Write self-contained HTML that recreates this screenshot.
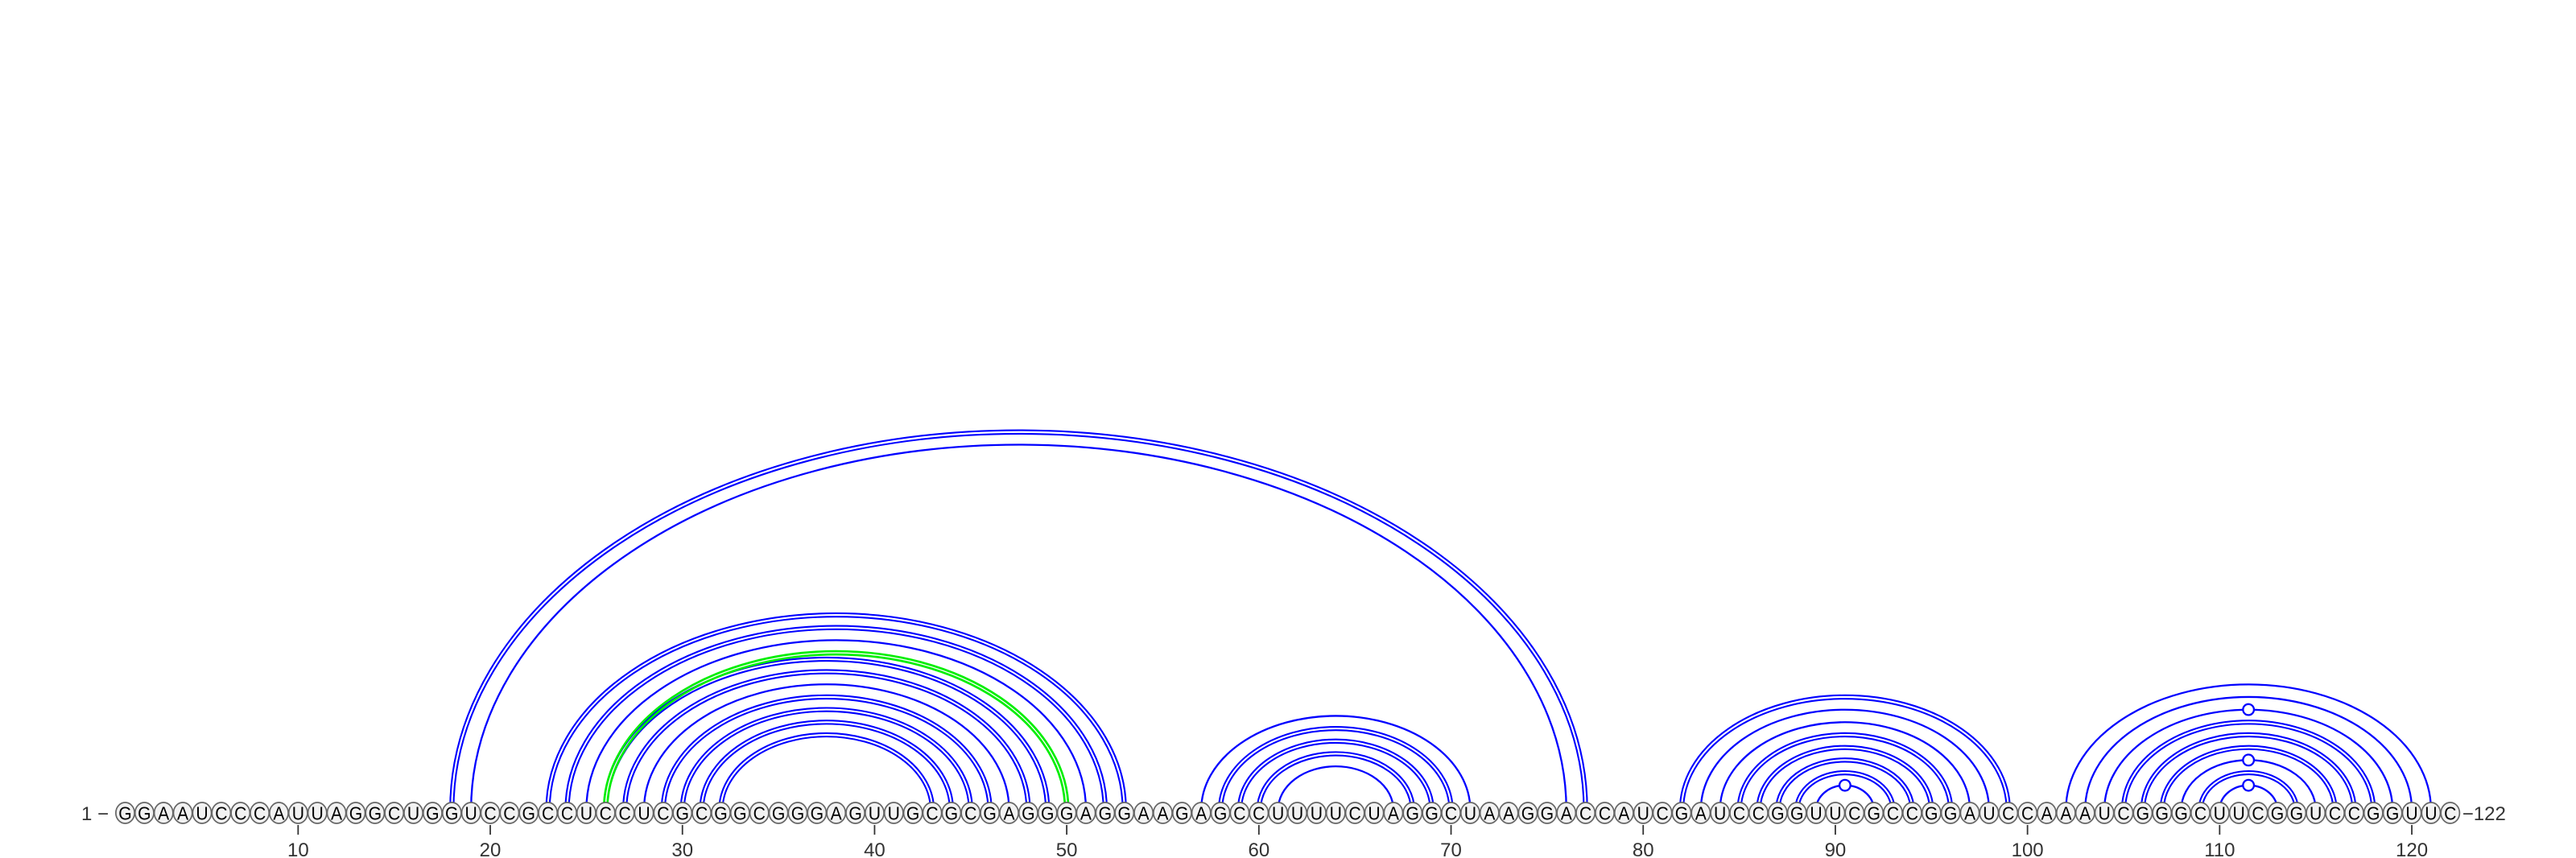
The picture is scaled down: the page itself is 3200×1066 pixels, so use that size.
<!DOCTYPE html>
<html><head><meta charset="utf-8"><style>
html,body{margin:0;padding:0;background:#fff;}
svg{display:block;}
text{font-family:"Liberation Sans",sans-serif;}
</style></head><body>
<svg id="chart" width="3200" height="1066" viewBox="0 0 3200 1066" xmlns="http://www.w3.org/2000/svg">
<g id="arcs"></g>
<g id="nts"></g>
<g id="axis"></g>
</svg>
<script>
const sequence = "GGAAUCCCAUUAGGCUGGUCCGCCUCCUCGCGGCGGGAGUUGCGCGAGGGAGGAAGAGCCUUUUCUAGGCUAAGGACCAUCGAUCCGGUUCGCCGGAUCCAAAUCGGGCUUCGGUCCGGUUC";
const pairStarts = [18,19,23,24,25,26,27,28,29,30,31,32,57,58,59,60,61,82,83,84,85,86,87,88,89,102,103,104,105,106,107,108,109,110];
const pairEnds   = [77,76,53,52,51,49,48,47,46,45,44,43,71,70,69,68,67,99,98,97,96,95,94,93,92,121,120,119,118,117,116,115,114,113];
const highlightStarts = [26];
const highlightEnds = [50];
const tickLabels = [10,20,30,40,50,60,70,80,90,100,110,120];

const NS = "http://www.w3.org/2000/svg";
const X0 = 155.5, DX = 23.87, BASE = 1006, CY = 1010;
function xPos(i){ return X0 + (i-1)*DX; }
function arcHeight(span){ return 7.84*span + 6.8; }
function mk(tag, attrs){ const e=document.createElementNS(NS,tag); for(const k in attrs) e.setAttribute(k,attrs[k]); return e; }

const arcs = document.getElementById('arcs');
function drawArc(i,j,color,width,off){
  const x1=xPos(i)-off, x2=xPos(j)+off;
  const rx=(x2-x1)/2, ry=arcHeight(j-i)+off;
  const p=mk('path',{d:`M${x1},${BASE} A${rx},${ry} 0 0 1 ${x2},${BASE}`,fill:'none',stroke:color,'stroke-width':width});
  
  
  arcs.appendChild(p);
}
function isGC(a,b){ const s=a+b; return s==="GC"||s==="CG"; }
function isGU(a,b){ const s=a+b; return s==="GU"||s==="UG"; }
for(let k=0;k<pairStarts.length;k++){
  const i=pairStarts[k], j=pairEnds[k];
  const a=sequence[i-1], b=sequence[j-1];
  if(isGC(a,b)){ drawArc(i,j,'#0000ff',2.1,2.1); drawArc(i,j,'#0000ff',2.1,-2.1); }
  else { drawArc(i,j,'#0000ff',2.3,0); }
  if(isGU(a,b)){
    const cx=(xPos(i)+xPos(j))/2, cy=BASE-arcHeight(j-i);
    const c=mk('circle',{cx:cx,cy:cy,r:6.8,fill:'#fff',stroke:'#0000ff','stroke-width':2.3});
    
    
    arcs.appendChild(c);
  }
}
for(let k=0;k<highlightStarts.length;k++){
  const i=highlightStarts[k], j=highlightEnds[k];
  drawArc(i,j,'#00ee00',2.7,2.1); drawArc(i,j,'#00ee00',2.7,-2.1);
}

const nts = document.getElementById('nts');
for(let i=1;i<=sequence.length;i++){
  const g=mk('g',{});
  
  
  g.appendChild(mk('ellipse',{cx:xPos(i),cy:CY,rx:11.6,ry:13,fill:'#f2f2f2',stroke:'#666','stroke-width':1.7}));
  const t=mk('text',{x:xPos(i),y:CY+8.5,'text-anchor':'middle','font-size':23,fill:'#000',transform:`translate(${xPos(i)},0) scale(0.92,1) translate(${-xPos(i)},0)`});
  t.textContent=sequence[i-1];
  g.appendChild(t);
  nts.appendChild(g);
}

const axis=document.getElementById('axis');
const startLabel=mk('text',{x:118,y:CY+9,'text-anchor':'middle','font-size':24,fill:'#333'});
startLabel.textContent="1 −";


axis.appendChild(startLabel);
const endLabel=mk('text',{x:xPos(sequence.length)+15,y:CY+9,'text-anchor':'start','font-size':24,fill:'#333'});
endLabel.textContent="−"+sequence.length;


axis.appendChild(endLabel);
tickLabels.forEach(v=>{
  const l=mk('line',{x1:xPos(v),x2:xPos(v),y1:1025,y2:1037,stroke:'#333','stroke-width':1.8});
  
  
  axis.appendChild(l);
  const t=mk('text',{x:xPos(v),y:1064,'text-anchor':'middle','font-size':24,fill:'#333'});
  t.textContent=v;
  
  
  axis.appendChild(t);
});
</script>
</body></html>
